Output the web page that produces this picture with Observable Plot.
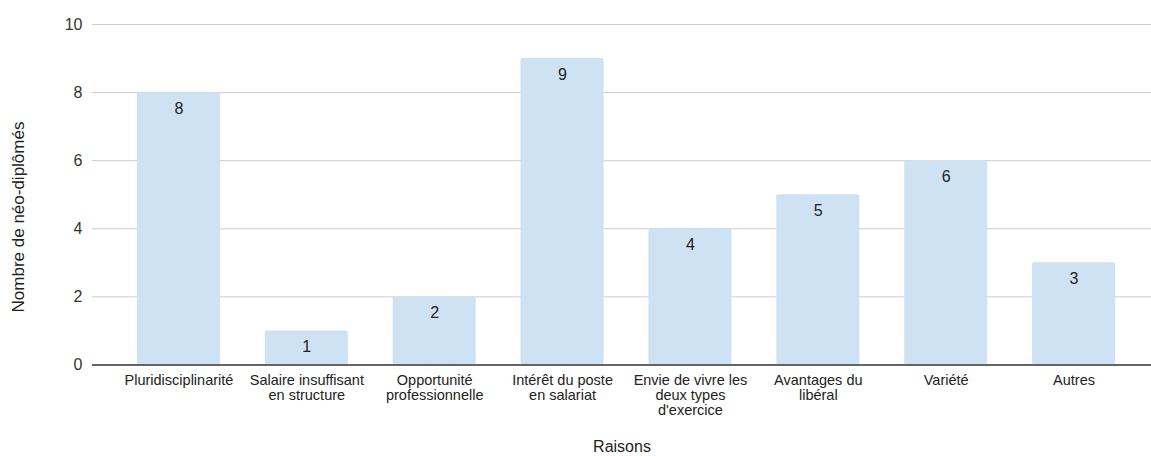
<!DOCTYPE html>
<html>
<head>
<meta charset="utf-8">
<script src="https://cdn.jsdelivr.net/npm/d3@7"></script>
<script src="https://cdn.jsdelivr.net/npm/@observablehq/plot@0.6"></script>
<style>
  html, body { margin: 0; padding: 0; background: #fff; }
  #chart { width: 1151px; height: 456px; }
</style>
</head>
<body>
<div id="chart"></div>
<script>
const categories = [
  "Pluridisciplinarité",
  "Salaire insuffisant en structure",
  "Opportunité professionnelle",
  "Intérêt du poste en salariat",
  "Envie de vivre les deux types d'exercice",
  "Avantages du libéral",
  "Variété",
  "Autres"
];
const tickLabels = [
  "Pluridisciplinarité",
  "Salaire insuffisant\nen structure",
  "Opportunité\nprofessionnelle",
  "Intérêt du poste\nen salariat",
  "Envie de vivre les\ndeux types\nd'exercice",
  "Avantages du\nlibéral",
  "Variété",
  "Autres"
];
const values = [8, 1, 2, 9, 4, 5, 6, 3];
const yTicks = [0, 2, 4, 6, 8, 10];
const xTitle = "Raisons";
const yTitle = "Nombre de néo-diplômés";

const data = categories.map((c, i) => ({cat: c, value: values[i]}));
const labelOf = new Map(categories.map((c, i) => [c, tickLabels[i]]));

const chart = Plot.plot({
  width: 1151,
  height: 456,
  marginLeft: 92,
  marginRight: 0,
  marginTop: 24,
  marginBottom: 91,
  style: {fontFamily: "'Liberation Sans', Arial, sans-serif", background: "#fff"},
  x: {domain: categories, range: [114.5, 1137.5], paddingInner: 0.35, paddingOuter: 0.175, round: false},
  y: {domain: [0, 10], range: [364.5, 24]},
  marks: [
    Plot.ruleY(yTicks.filter(d => d !== 0), {stroke: "#cccccc", strokeWidth: 1}),
    Plot.barY(data, {x: "cat", y: "value", fill: "#cfe2f3", rx: 2}),
    Plot.ruleY([0], {stroke: "#333333", strokeWidth: 1.3}),
    Plot.text(data, {x: "cat", y: "value", text: d => String(d.value), dy: 16, fontSize: 16, fill: "#222222"}),
    Plot.axisY({ticks: yTicks, tickSize: 0, tickPadding: 10, fontSize: 16, color: "#333333", label: null}),
    Plot.axisX({
      tickSize: 0, tickPadding: 9, fontSize: 14.5, color: "#222222", lineHeight: 1.03,
      tickFormat: d => labelOf.get(d), label: null
    }),
    Plot.text([yTitle], {frameAnchor: "left", text: d => d, rotate: -90, textAnchor: "middle", dx: -74, dy: 22, fontSize: 17, fill: "#222222"}),
    Plot.text([xTitle], {frameAnchor: "bottom", text: d => d, dy: 86, fontSize: 16, fill: "#222222"})
  ]
});
document.getElementById("chart").appendChild(chart);
</script>
</body>
</html>
